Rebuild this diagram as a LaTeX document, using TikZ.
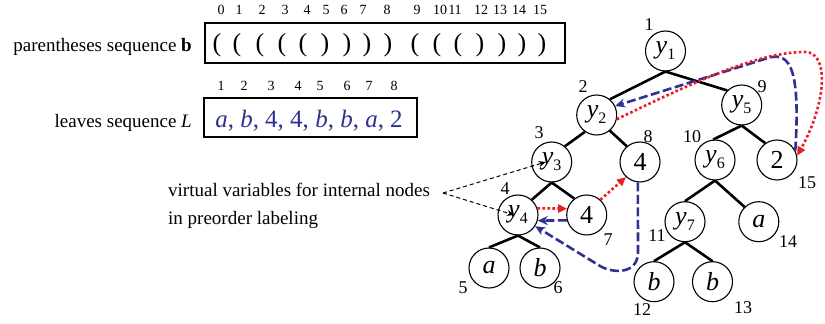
\documentclass[tikz,border=0pt]{standalone}
\usepackage{fontspec}
\setmainfont{Liberation Serif}
\usepackage{tikz}
\usetikzlibrary{arrows.meta,positioning}
\definecolor{linkred}{HTML}{ED1C24}
\definecolor{linkblue}{HTML}{2E3192}
\newcommand\yvar[1]{\textit{y}\raisebox{-6pt}{\fontsize{16}{16}\selectfont #1}}

\begin{document}
\begin{tikzpicture}[
  x=1pt, y=1pt,
  vn/.style={draw,circle,line width=1.1pt,minimum size=40,inner sep=0pt,font=\fontsize{26}{26}\selectfont},
  num/.style={inner sep=0pt,font=\fontsize{18}{18}\selectfont},
  idx/.style={inner sep=0pt,font=\fontsize{14}{14}\selectfont},
  txt/.style={inner sep=0pt,font=\fontsize{19}{28}\selectfont},
  bx/.style={draw,line width=1.1pt,inner sep=0pt},
  ed/.style={line width=2.6pt},
  fwd/.style={linkred,line width=2.6pt,dash pattern=on 2.6pt off 2.4pt,-{Triangle[length=9pt,width=8pt]}},
  bwd/.style={linkblue,line width=2.6pt,dash pattern=on 9pt off 3.5pt,-{Stealth[length=10pt,width=9pt]}},
  ptr/.style={line width=1pt,dash pattern=on 4pt off 3pt,-{Stealth[length=7pt,width=6pt]}}
]
  \useasboundingbox (0,0) rectangle (825,324);

  % parentheses sequence
  \node[txt,anchor=base east] (ptxt) at (192,272) {parentheses sequence \textbf{b}};
  \node[bx,minimum width=360,minimum height=40] (pbox) at (385,281) {};
  \foreach \x/\c [count=\i from 0] in {217/(,237/(,260/(,282/(,303/(,325/),347/),367/),388/),415/(,437/(,458/(,480/),502/),522/),542/)}
    \node[anchor=base,inner sep=0pt,font=\fontsize{26}{26}\selectfont] (p\i) at (\x,272) {\c};
  \foreach \x [count=\i from 0] in {221,239,262,285,307,326,344,363,387,417,440,455,481,500,519,540}
    \node[idx] (bi\i) at (\x,314) {\i};

  % leaves sequence
  \node[txt,anchor=base east] (ltxt) at (192,196) {leaves sequence \textit{L}};
  \node[bx,minimum width=213,minimum height=39] (lbox) at (310.5,206.5) {};
  \node[anchor=base,inner sep=0pt,text=linkblue,font=\fontsize{25}{25}\selectfont] (lseq) at (309,196)
    {\textit{a}, \textit{b}, 4, 4, \textit{b}, \textit{b}, \textit{a}, 2};
  \foreach \x [count=\i] in {221,244,271,298,320,347,369,394}
    \node[idx] (li\i) at (\x,238) {\i};

  % tree
  \node[vn] (y1) at (665.5,273) {\yvar{1}};
  \node[vn] (y2) at (596.7,209) {\yvar{2}};
  \node[vn] (y5) at (741.7,219) {\yvar{5}};
  \node[vn] (y3) at (551.7,162) {\yvar{3}};
  \node[vn] (n8) at (640,162) {4};
  \node[vn] (y6) at (715,164) {\yvar{6}};
  \node[vn] (n15) at (777,164) {2};
  \node[vn] (y4) at (518,109) {\yvar{4}};
  \node[vn] (n7) at (586.7,109) {4};
  \node[vn] (y7) at (685,102.3) {\yvar{7}};
  \node[vn] (n14) at (758.8,102.3) {\textit{a}};
  \node[vn] (n5) at (489,56) {\textit{a}};
  \node[vn] (n6) at (540,56) {\textit{b}};
  \node[vn] (n12) at (654,42.3) {\textit{b}};
  \node[vn] (n13) at (712.5,42.3) {\textit{b}};

  \foreach \nd/\dx/\dy/\t in {y1/-16.5/26/1,y2/-13.7/28/2,y5/20.3/18/9,y3/-12.7/29/3,n8/8/25/8,
      y6/-23/23/10,y4/-13/26/4,n7/21.3/-25/7,y7/-28/-14.3/11,n14/29.2/-20.3/14,n15/30/-23/15,
      n5/-26/-20/5,n6/18/-20/6,n12/-12/-28.3/12,n13/30.5/-26.3/13}
    \node[num] (o\t) at ([shift={(\dx,\dy)}]\nd) {\t};

  \draw[ed] (y1.south) -- (y2.50);
  \draw[ed] (y1.south) -- (y5.135);
  \draw[ed] (y2.235) -- (y3.50);
  \draw[ed] (y2.310) -- (n8.130);
  \draw[ed] (y5.south) -- (y6.95);
  \draw[ed] (y5.south) -- (n15.125);
  \draw[ed] (y3.south) -- (y4.48);
  \draw[ed] (y3.south) -- (n7.127);
  \draw[ed] (y4.south) -- (n5.north);
  \draw[ed] (y4.south) -- (n6.north);
  \draw[ed] (y6.south) -- (y7.north);
  \draw[ed] (y6.south) -- (n14.134);
  \draw[ed] (y7.south) -- (n12.north);
  \draw[ed] (y7.south) -- (n13.north);

  % virtual variables note
  \node[txt,align=left,anchor=north west] (vtxt) at (168,141) {virtual variables for internal nodes\\in preorder labeling};
  \coordinate (vv) at (443,131);
  \draw[ptr] (vv) -- ([xshift=-6pt]y3.center);
  \draw[ptr] (vv) -- ([xshift=-4pt]y4.center);

  % traversal
  \draw[fwd] (y4.19) -- (n7.162);
  \draw[fwd] (n7.48) -- (n8.227);
  \draw[bwd] (n7.195) -- (y4.-16);
  \coordinate (lowb) at (600,58);
  \draw[bwd] (n8.264) -- (638,72) .. controls (638,50) and (614,50) .. (lowb) -- (y4.-33);
  \coordinate (topb) at (768,266);
  \draw[bwd] (n15.27) .. controls (800,250) and (792,273.6) .. (topb) -- (y2.26);
  \coordinate (topr) at (805,272);
  \draw[fwd] (y2.-12) .. controls (700,245) and (760,272) .. (topr) .. controls (830,272) and (826,220) .. (n15.12);
\end{tikzpicture}
\end{document}
